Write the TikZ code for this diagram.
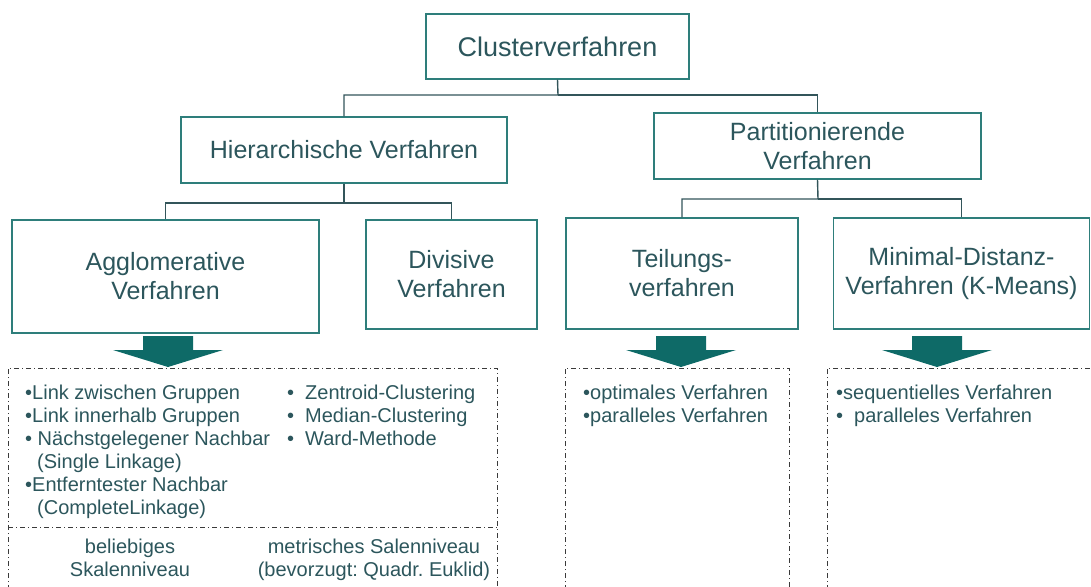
\documentclass[tikz,border=0pt]{standalone}
\usepackage{fontspec}
\setmainfont{Liberation Sans}
\frenchspacing
\usetikzlibrary{positioning}

\definecolor{boxline}{HTML}{2E7E7B}
\definecolor{treeline}{HTML}{33555A}
\definecolor{txt}{HTML}{2C565C}
\definecolor{pfeil}{HTML}{0E6A67}
\definecolor{rand}{HTML}{3A3A3A}

\tikzset{
  verfahren/.style={draw=boxline, line width=1.4pt, fill=white, text=txt, align=center,
    font=\fontsize{25}{29}\selectfont, inner sep=0pt},
  ast/.style={draw=treeline, line width=1.4pt},
  gruppe/.style={draw=rand, line width=0.9pt, dash pattern=on 5pt off 3pt on 1pt off 3pt},
  liste/.style={text=txt, align=left, font=\fontsize{20}{23}\selectfont, inner sep=0pt, anchor=base west},
  skala/.style={text=txt, align=center, font=\fontsize{20}{23}\selectfont, inner sep=0pt, anchor=base},
}

\begin{document}
\begin{tikzpicture}[x=1pt,y=-1pt]
   \useasboundingbox (0,0) rectangle (1091,586);

   \node[verfahren, minimum width=263pt, minimum height=65pt, font=\fontsize{27}{31}\selectfont]
        (cluster) at (557.5,46.5) {Clusterverfahren};
   \node[verfahren, minimum width=326pt, minimum height=66pt] (hier) at (344,150) {Hierarchische Verfahren};
   \node[verfahren, minimum width=327pt, minimum height=66pt] (part) at (817.5,146) {Partitionierende\\Verfahren};
   \node[verfahren, minimum width=307pt, minimum height=113pt] (agglo) at (165.5,276.5) {Agglomerative\\Verfahren};
   \node[verfahren, minimum width=171pt, minimum height=109pt] (divis) at (451.5,274.5) {Divisive\\Verfahren};
   \node[verfahren, minimum width=232pt, minimum height=111pt] (teil) at (682,273.5) {Teilungs-\\verfahren};
   \node[verfahren, minimum width=256pt, minimum height=111pt] (mindist) at (961.5,273.5) {Minimal-Distanz-\\Verfahren (K-Means)};

   \coordinate (k1) at (558,95);
   \coordinate (k2) at (344,203);
   \coordinate (k3) at (818,199);
   \draw[ast] (cluster.south) -- (k1) -| (hier.north);
   \draw[ast] (k1) -| (part.north);
   \draw[ast] (hier.south) -- (k2) -| (agglo.north);
   \draw[ast] (k2) -| (divis.north);
   \draw[ast] (part.south) -- (k3) -| (teil.north);
   \draw[ast] (k3) -| (mindist.north);

   \draw[gruppe] (8,590) -- (8,368) -- (497,368) -- (497,590);
   \draw[gruppe] (8,527) -- (497,527);
   \draw[gruppe] (565,590) -- (565,368) -- (789,368) -- (789,590);
   \draw[gruppe] (827,590) -- (827,368) -- (1092,368);

   \foreach \x in {168,681,937}
      \fill[pfeil] (\x-25,336) -- (\x+25,336) -- (\x+25,350) -- (\x+55,350)
                   -- (\x,367) -- (\x-55,350) -- (\x-25,350) -- cycle;

   % base anchor sits on the last line
   \node[liste] (agglo-links) at (25,514) {•Link zwischen Gruppen\\•Link innerhalb Gruppen\\• Nächstgelegener Nachbar\\
      \hspace*{12pt}(Single Linkage)\\•Entferntester Nachbar\\\hspace*{12pt}(CompleteLinkage)};
   \node[liste] (agglo-rechts) at (287,445) {•\hspace{11pt}Zentroid-Clustering\\•\hspace{11pt}Median-Clustering\\
      •\hspace{11pt}Ward-Methode};
   \node[skala] (skala-bel) at (130,576) {beliebiges\\Skalenniveau};
   \node[skala] (skala-met) at (374,576) {metrisches Salenniveau\\(bevorzugt: Quadr. Euklid)};
   \node[liste] (teil-liste) at (583,422) {•optimales Verfahren\\•paralleles Verfahren};
   \node[liste] (min-liste) at (836,422) {•sequentielles Verfahren\\•\hspace{11pt}paralleles Verfahren};
\end{tikzpicture}
\end{document}
